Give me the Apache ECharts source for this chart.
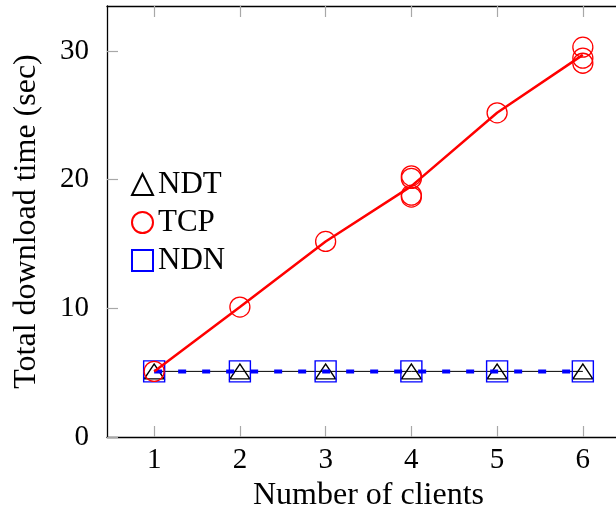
<!DOCTYPE html>
<html>
<head>
<meta charset="utf-8">
<script src="https://cdn.jsdelivr.net/npm/echarts@6/dist/echarts.min.js"></script>
<style>
  html, body { margin: 0; padding: 0; background: #fff; }
  #chart { width: 616px; height: 516px; }
</style>
</head>
<body>
<div id="chart"></div>
<script>
// Number of clients on the x axis
const clients = [1, 2, 3, 4, 5, 6];

// NDT and NDN: total download time per client count (sec)
const ndtTimes = [5.1, 5.1, 5.1, 5.1, 5.1, 5.1];
const ndnTimes = [5.1, 5.1, 5.1, 5.1, 5.1, 5.1];

// TCP: individual runs, as [clients, seconds]
const tcpRuns = [
  [1, 5.1],
  [2, 10.1],
  [3, 15.2],
  [4, 20.3], [4, 20.1], [4, 18.8], [4, 18.65],
  [5, 25.2],
  [6, 30.3], [6, 29.45], [6, 29.05]
];
// TCP: average per client count
const tcpMean = [5.1, 10.1, 15.2, 19.5, 25.2, 29.7];

const yTicks = [0, 10, 20, 30];

const FONT = 'Liberation Serif';
const pair = (xs, ys) => xs.map((x, i) => [x, ys[i]]);

const xBase = {
  type: 'value', min: 0.45, max: 6.55,
  splitLine: { show: false },
  axisLine: { show: true, onZero: false, lineStyle: { color: '#000', width: 1.3 } },
  axisTick: { show: true, inside: true, length: 11, customValues: clients,
              lineStyle: { color: '#a8a8a8', width: 1.2 } }
};
const yBase = {
  type: 'value', min: 0, max: 33.5,
  splitLine: { show: false },
  axisLine: { show: true, onZero: false, lineStyle: { color: '#000', width: 1.3 } },
  axisTick: { show: true, inside: true, length: 11, customValues: yTicks,
              lineStyle: { color: '#a8a8a8', width: 1.2 } }
};

const option = {
  animation: false,
  backgroundColor: '#fff',
  grid: { left: 107, top: 6, right: -14, bottom: 79, outerBoundsMode: 'none', containLabel: false },
  xAxis: [
    Object.assign({}, xBase, {
      position: 'bottom',
      name: 'Number of clients', nameLocation: 'middle', nameGap: 38,
      nameTextStyle: { fontFamily: FONT, fontSize: 32, color: '#000' },
      axisLabel: { show: true, customValues: clients, margin: 9,
                   fontFamily: FONT, fontSize: 29, color: '#000' }
    }),
    Object.assign({}, xBase, { position: 'top', axisLabel: { show: false } })
  ],
  yAxis: [
    Object.assign({}, yBase, {
      position: 'left',
      name: 'Total download time (sec)', nameLocation: 'middle', nameGap: 64,
      nameTextStyle: { fontFamily: FONT, fontSize: 32, color: '#000' },
      axisLabel: { show: true, customValues: yTicks, margin: 18,
                   fontFamily: FONT, fontSize: 29, color: '#000' }
    }),
    Object.assign({}, yBase, { position: 'right', axisLabel: { show: false } })
  ],
  legend: {
    orient: 'vertical', left: 126, top: 164,
    itemWidth: 21, itemHeight: 21, itemGap: 7,
    textStyle: { fontFamily: FONT, fontSize: 31, color: '#000' },
    data: [
      { name: 'NDT', icon: 'triangle' },
      { name: 'TCP', icon: 'circle' },
      { name: 'NDN', icon: 'rect' }
    ]
  },
  series: [
    {
      name: 'TCP', type: 'line', data: pair(clients, tcpMean),
      showSymbol: false, symbol: 'none',
      lineStyle: { color: '#ff0000', width: 2.5 },
      itemStyle: { color: 'rgba(0,0,0,0)', borderColor: '#ff0000', borderWidth: 1.3 },
      z: 3
    },
    {
      name: 'TCP', type: 'scatter', data: tcpRuns,
      symbol: 'circle', symbolSize: 20,
      itemStyle: { color: 'rgba(0,0,0,0)', borderColor: '#ff0000', borderWidth: 1.3, opacity: 1 },
      z: 4
    },
    {
      name: 'NDN', type: 'line', data: pair(clients, ndnTimes),
      symbol: 'rect', symbolSize: 21,
      lineStyle: { color: '#0000ff', width: 4, type: [8, 16] },
      itemStyle: { color: 'rgba(0,0,0,0)', borderColor: '#0000ff', borderWidth: 1.4 },
      z: 2
    },
    {
      name: 'NDT', type: 'line', data: pair(clients, ndtTimes),
      symbol: 'triangle', symbolSize: [20, 15],
      lineStyle: { color: '#000', width: 1 },
      itemStyle: { color: 'rgba(0,0,0,0)', borderColor: '#000', borderWidth: 1.3 },
      z: 1
    }
  ]
};

const chart = echarts.init(document.getElementById('chart'), null, { renderer: 'canvas' });
chart.setOption(option);
</script>
</body>
</html>
